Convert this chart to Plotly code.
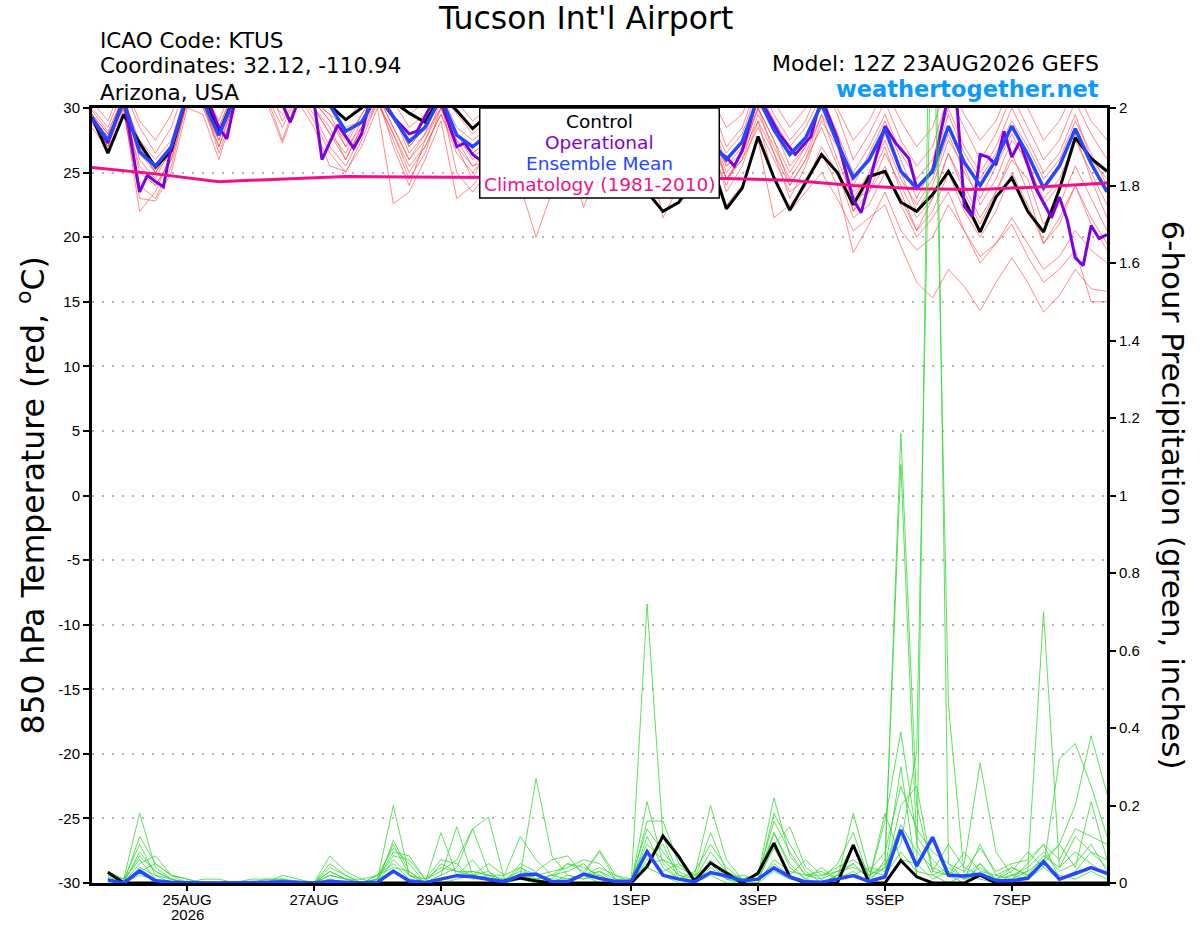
import pandas as pd
import plotly.graph_objects as go

START = "2026-08-23 12:00"
END = "2026-09-08 12:00"

# 850 hPa temperature, 6-hourly from 12Z 23AUG (values above 30 are clipped by the axis)
ctrl_temp = [
    29.3, 26.5, 29.5, 27.3, 25.4, 26.7, 31.0, 31.5, 28.0, 31.0,
    32.5, 33.0, 30.5, 32.0, 31.0, 30.2, 29.1, 30.0, 32.0, 30.5,
    29.6, 28.9, 31.0, 29.8, 28.4, 29.5, 28.0, 29.5, 27.5, 26.0,
    27.0, 28.5, 26.0, 24.5, 25.5, 23.5, 22.0, 22.7, 24.5, 26.0,
    22.2, 23.8, 27.8, 24.6, 22.1, 24.3, 26.4, 25.0, 22.5, 24.7,
    25.1, 22.7, 22.0, 23.3, 25.1, 22.9, 20.4, 23.1, 24.6, 22.0,
    20.4, 23.7, 27.7, 26.1, 25.1,
]
mean_temp = [
    29.2, 27.5, 30.5, 26.6, 25.5, 27.0, 31.0, 30.5, 27.9, 30.8,
    32.0, 32.0, 31.0, 31.5, 30.5, 30.2, 28.2, 28.9, 31.0, 29.3,
    27.4, 28.5, 30.8, 27.9, 27.0, 28.0, 28.5, 29.5, 28.0, 27.5,
    28.5, 29.0, 27.5, 27.0, 28.0, 28.5, 27.5, 27.0, 27.5, 27.5,
    26.0, 27.4, 30.8, 28.3, 26.4, 27.7, 30.3, 27.3, 24.6, 26.0,
    28.4, 25.1, 23.8, 25.1, 28.6, 25.8, 24.0, 26.0, 28.6, 26.4,
    23.8, 25.5, 28.4, 25.7, 23.5,
]
op_hours = [
    0, 6, 12, 18, 21, 24, 27, 30, 36, 42, 48, 51, 54, 60, 66, 72, 75, 78,
    84, 87, 93, 99, 102, 105, 108, 114, 120, 123, 129, 132, 138, 141, 144,
    150, 156, 162, 168, 174, 180, 186, 192, 198, 204, 210, 216, 222, 228,
    234, 240, 243, 246, 252, 260, 266, 272, 276, 282, 288, 291, 297, 300,
    304, 309, 312, 318, 324, 327, 330, 333, 336, 339, 342, 345, 348, 351,
    357, 363, 366, 369, 372, 375, 378, 381, 384,
]
op_temp = [
    29.2, 27.3, 30.8, 23.5, 24.8, 24.3, 23.9, 27.0, 31.0, 31.5, 28.5, 27.6, 30.5, 32.0, 31.5, 30.3, 28.9, 30.5,
    30.5, 26.0, 28.7, 26.9, 28.0, 30.5, 31.0, 29.3, 28.0, 28.2, 30.5, 30.5, 27.0, 27.3, 26.4,
    25.5, 27.5, 28.5, 27.0, 26.5, 28.0, 27.5, 26.5, 27.0, 28.0, 27.0, 26.0, 27.0, 28.0,
    27.0, 26.2, 25.5, 26.7, 31.0, 28.0, 26.4, 27.8, 30.8, 27.6, 22.9, 21.9, 26.5, 28.6,
    27.3, 26.1, 23.8, 25.1, 31.0, 31.0, 22.4, 21.6, 26.4, 26.2, 25.6, 28.2, 26.2, 27.4,
    23.8, 21.5, 23.1, 21.3, 18.4, 17.8, 20.9, 19.9, 20.2,
]
clim_hours = [0, 24, 48, 72, 96, 120, 144, 168, 192, 216, 240, 264, 288, 312, 336, 360, 384]
clim_temp = [25.4, 24.9, 24.3, 24.5, 24.7, 24.65, 24.6, 24.6, 24.6, 24.6, 24.55, 24.4, 24.0, 23.75, 23.7, 23.9, 24.2]

# ensemble members (red)
temp_m01 = [
    29.0, 27.0, 30.5, 27.5, 26.0, 27.5, 31.5, 31.0, 28.5, 31.5,
    32.5, 31.5, 30.0, 32.0, 30.5, 29.0, 27.5, 29.5, 31.5, 29.5,
    26.5, 28.0, 31.0, 28.0, 26.0, 27.5, 29.0, 30.0, 27.0, 26.5,
    29.0, 30.0, 27.0, 26.0, 28.0, 29.5, 28.0, 26.5, 28.5, 29.5,
    25.5, 27.0, 31.0, 28.5, 25.5, 27.0, 30.5, 28.0, 24.0, 26.5,
    29.0, 26.0, 23.0, 25.5, 29.5, 26.5, 24.5, 26.5, 29.0, 27.0,
    24.5, 26.0, 29.0, 26.5, 24.0,
]
temp_m02 = [
    29.5, 28.0, 30.0, 25.5, 24.0, 26.0, 30.5, 30.0, 27.0, 30.5,
    31.5, 31.0, 28.5, 31.0, 29.5, 27.0, 25.5, 28.0, 30.5, 28.0,
    25.0, 27.0, 29.5, 26.5, 25.0, 26.5, 28.0, 29.5, 26.5, 25.0,
    27.5, 28.5, 26.0, 25.0, 27.0, 28.0, 26.0, 25.0, 27.0, 28.5,
    24.5, 26.0, 29.5, 27.0, 24.5, 26.5, 29.5, 26.0, 23.0, 25.0,
    27.5, 24.5, 22.5, 24.5, 28.0, 25.0, 23.0, 25.5, 28.0, 25.5,
    23.0, 24.5, 27.5, 25.0, 22.5,
]
temp_m03 = [
    30.0, 28.5, 31.5, 28.5, 26.5, 28.5, 32.0, 31.5, 29.0, 32.0,
    33.0, 32.5, 31.0, 32.5, 31.5, 30.5, 29.0, 30.5, 32.0, 30.5,
    28.5, 29.5, 32.0, 29.5, 28.0, 29.0, 30.5, 31.5, 29.0, 28.0,
    30.0, 31.0, 29.0, 28.0, 29.5, 31.0, 29.0, 28.0, 29.5, 30.5,
    27.0, 28.5, 32.0, 29.5, 27.5, 29.0, 32.0, 29.5, 26.0, 28.0,
    30.5, 27.5, 25.5, 27.0, 31.0, 28.5, 26.0, 28.0, 31.0, 28.5,
    26.0, 27.5, 30.5, 28.0, 26.0,
]
temp_m04 = [
    28.5, 26.8, 29.5, 24.0, 23.0, 25.5, 30.5, 30.5, 26.5, 30.0,
    32.0, 32.0, 29.0, 31.0, 30.0, 28.5, 26.0, 28.5, 31.0, 27.0,
    24.0, 27.5, 30.0, 27.0, 24.5, 27.0, 28.5, 29.0, 25.5, 24.0,
    27.0, 28.0, 25.0, 23.5, 26.5, 27.5, 25.5, 24.0, 26.5, 27.5,
    23.5, 25.5, 29.0, 26.5, 23.0, 25.5, 29.0, 27.0, 23.5, 24.5,
    28.0, 25.0, 22.0, 24.0, 27.5, 25.5, 22.5, 24.5, 27.5, 26.0,
    22.5, 24.0, 28.0, 24.5, 21.5,
]
temp_m05 = [
    29.5, 28.0, 31.0, 27.0, 25.0, 27.0, 31.5, 30.5, 28.0, 31.0,
    32.0, 31.5, 30.5, 31.5, 30.5, 29.5, 28.5, 29.0, 31.5, 29.5,
    27.0, 28.5, 31.0, 28.5, 27.5, 28.5, 29.5, 30.5, 28.5, 27.5,
    29.0, 29.5, 28.0, 27.5, 28.5, 29.5, 28.0, 27.0, 28.0, 29.0,
    26.5, 28.0, 31.5, 29.0, 27.0, 28.5, 31.0, 28.0, 25.0, 27.0,
    29.5, 26.5, 24.5, 26.0, 30.0, 27.0, 25.0, 27.0, 30.0, 27.5,
    25.0, 26.5, 29.5, 26.0, 24.5,
]
temp_m06 = [
    29.0, 27.5, 30.0, 22.0, 23.5, 26.5, 30.5, 30.0, 27.5, 31.0,
    31.5, 31.0, 27.5, 31.0, 29.0, 26.5, 25.0, 27.5, 30.5, 27.5,
    24.5, 26.5, 30.0, 27.5, 25.5, 26.0, 27.0, 28.5, 26.0, 25.5,
    28.0, 29.0, 26.5, 24.5, 26.0, 27.0, 25.0, 24.5, 26.5, 27.0,
    24.0, 27.0, 30.0, 27.5, 25.0, 27.0, 30.5, 27.0, 23.0, 23.5,
    26.5, 24.0, 21.5, 23.0, 26.5, 24.0, 21.5, 23.5, 26.0, 24.5,
    21.0, 22.5, 25.5, 23.0, 20.5,
]
temp_m07 = [
    29.8, 28.2, 30.8, 26.0, 24.5, 27.0, 31.0, 31.0, 28.0, 31.0,
    32.5, 31.5, 30.0, 31.5, 30.0, 28.0, 26.5, 29.0, 31.0, 28.5,
    26.0, 27.5, 30.5, 25.0, 23.5, 25.0, 26.5, 24.0, 20.0, 23.5,
    26.0, 27.0, 25.0, 23.0, 25.5, 27.5, 21.5, 24.0, 27.0, 28.0,
    24.5, 26.5, 30.0, 26.5, 24.0, 26.0, 29.5, 27.5, 22.0, 24.5,
    27.0, 23.5, 20.5, 23.0, 26.5, 23.5, 21.0, 23.5, 26.5, 23.5,
    19.5, 21.5, 24.0, 21.0, 19.0,
]
temp_m08 = [
    29.3, 27.8, 30.5, 27.0, 25.0, 26.5, 31.0, 30.5, 27.5, 30.5,
    31.5, 31.5, 30.5, 31.5, 30.5, 29.5, 27.0, 28.5, 31.0, 28.5,
    26.0, 28.0, 30.0, 27.5, 26.5, 27.5, 28.5, 29.0, 27.0, 26.5,
    28.0, 28.5, 27.0, 26.0, 27.0, 28.0, 27.0, 26.5, 27.5, 28.0,
    25.5, 26.5, 29.0, 24.5, 22.0, 23.5, 25.0, 23.0, 20.5, 21.5,
    22.5, 19.3, 16.5, 15.3, 17.5, 16.2, 14.3, 16.5, 18.4, 16.5,
    14.2, 15.5, 17.5, 16.0, 15.8,
]
temp_m09 = [
    29.0, 27.0, 30.5, 25.0, 24.0, 26.0, 30.5, 30.5, 27.0, 30.5,
    32.0, 31.0, 29.5, 31.0, 30.0, 28.0, 26.0, 28.5, 30.5, 28.0,
    25.5, 27.0, 29.5, 27.0, 25.5, 26.5, 27.5, 28.5, 26.0, 25.5,
    27.5, 28.0, 26.0, 25.5, 26.5, 27.5, 26.0, 25.5, 27.0, 27.5,
    24.5, 26.0, 28.5, 26.0, 23.5, 24.5, 26.5, 24.0, 18.8, 21.0,
    23.5, 20.5, 19.0, 20.0, 22.5, 20.5, 18.0, 19.5, 21.5, 19.5,
    17.5, 18.5, 20.5, 19.0, 18.0,
]
temp_m10 = [
    29.5, 27.5, 31.0, 26.5, 25.0, 27.0, 31.5, 31.0, 28.5, 31.5,
    32.5, 32.0, 30.0, 32.0, 30.5, 29.0, 27.0, 29.5, 31.5, 29.5,
    27.0, 28.5, 31.0, 28.0, 26.5, 27.5, 29.0, 29.5, 27.5, 27.0,
    28.5, 29.5, 27.5, 26.5, 27.5, 28.5, 27.5, 26.5, 28.0, 28.5,
    25.0, 26.5, 30.0, 27.5, 24.0, 26.0, 28.5, 25.5, 22.0, 23.5,
    25.5, 22.5, 20.0, 21.5, 23.5, 20.5, 18.5, 19.5, 21.0, 18.5,
    16.5, 17.5, 19.0, 15.0, 15.0,
]
temp_m11 = [
    30.5, 29.0, 32.0, 29.0, 27.5, 29.5, 33.0, 32.5, 30.0, 33.0,
    33.5, 33.0, 31.5, 33.0, 32.0, 31.0, 30.0, 31.5, 33.0, 31.5,
    29.5, 30.5, 32.5, 30.5, 29.0, 30.0, 31.5, 32.0, 30.0, 29.5,
    31.0, 31.5, 30.0, 29.0, 30.5, 31.5, 30.0, 29.5, 30.5, 31.0,
    28.5, 29.5, 32.5, 30.5, 28.5, 30.0, 32.5, 30.0, 27.5, 29.0,
    31.5, 29.0, 27.0, 28.5, 32.0, 29.5, 27.5, 29.0, 32.0, 30.0,
    27.5, 29.0, 31.5, 29.0, 27.5,
]
temp_m12 = [
    28.8, 27.2, 29.8, 23.0, 22.8, 25.0, 30.0, 29.5, 26.0, 30.0,
    31.0, 30.5, 27.3, 30.5, 28.5, 25.5, 25.1, 27.0, 30.0, 22.6,
    23.5, 26.0, 29.0, 23.0, 24.0, 25.5, 27.0, 28.0, 24.5, 24.0,
    26.5, 22.3, 25.5, 24.0, 25.5, 26.5, 24.5, 23.5, 25.5, 26.0,
    22.5, 24.0, 27.5, 21.5, 22.5, 24.0, 27.0, 25.0, 21.5, 22.5,
    25.0, 23.0, 20.5, 22.0, 25.0, 22.0, 20.0, 22.0, 25.0, 22.5,
    19.5, 21.0, 24.0, 21.5, 19.5,
]

# 6-hour precipitation (inches), valid 18Z 23AUG onward
ctrl_precip = [
    0.028, 0, 0, 0, 0, 0, 0, 0,
    0, 0, 0, 0, 0, 0, 0, 0,
    0, 0, 0, 0, 0, 0, 0, 0,
    0, 0.005, 0.013, 0.005, 0, 0, 0, 0,
    0, 0, 0.042, 0.121, 0.068, 0.005, 0.052, 0.026,
    0, 0.026, 0.103, 0.016, 0, 0, 0, 0.098,
    0, 0, 0.058, 0.016, 0, 0, 0, 0.02,
    0, 0, 0, 0, 0, 0, 0, 0,
]
mean_precip = [
    0.008, 0, 0.031, 0.006, 0.002, 0, 0, 0,
    0, 0, 0.002, 0.003, 0.001, 0, 0.004, 0.002,
    0, 0.002, 0.031, 0.005, 0.001, 0.01, 0.019, 0.016,
    0.01, 0.003, 0.02, 0.023, 0.003, 0.003, 0.023, 0.012,
    0.004, 0.004, 0.081, 0.02, 0.01, 0.003, 0.027, 0.018,
    0.006, 0.01, 0.039, 0.016, 0.003, 0.002, 0.01, 0.019,
    0.004, 0.016, 0.137, 0.044, 0.118, 0.02, 0.018, 0.023,
    0.006, 0.006, 0.012, 0.055, 0.01, 0.025, 0.04, 0.025,
]
precip_m01 = [
    0.02, 0.01, 0.18, 0.04, 0.01, 0, 0, 0,
    0, 0, 0, 0, 0, 0, 0.02, 0.01,
    0, 0, 0.11, 0.03, 0, 0.13, 0.02, 0.06,
    0.01, 0, 0.04, 0.01, 0, 0, 0.02, 0,
    0, 0, 0.21, 0.05, 0.01, 0, 0.06, 0.01,
    0, 0.01, 0.09, 0.02, 0, 0, 0.02, 0.05,
    0.01, 0.04, 1.16, 0.20, 0.03, 0.02, 0, 0.05,
    0, 0.01, 0.03, 0.70, 0.04, 0.08, 0.05, 0.02,
]
precip_m02 = [
    0.01, 0, 0.12, 0.05, 0.02, 0.01, 0, 0,
    0, 0, 0, 0.01, 0, 0, 0.05, 0.02,
    0, 0.01, 0.20, 0.02, 0, 0.02, 0.04, 0.14,
    0.17, 0.01, 0.02, 0.27, 0.07, 0.02, 0.01, 0.03,
    0, 0, 0.72, 0.12, 0.02, 0, 0.03, 0.02,
    0, 0, 0.13, 0.04, 0.01, 0, 0.01, 0.03,
    0, 0.06, 1.08, 0.10, 0.02, 0.04, 0.01, 0.02,
    0.01, 0, 0.02, 0.05, 0.10, 0.04, 0.21, 0.06,
]
precip_m03 = [
    0.03, 0.01, 0.10, 0.02, 0, 0, 0, 0,
    0, 0, 0, 0, 0, 0, 0.03, 0.01,
    0, 0.02, 0.09, 0.05, 0, 0.01, 0.02, 0.02,
    0.05, 0.02, 0.12, 0.06, 0.02, 0.05, 0.03, 0.08,
    0.01, 0, 0.16, 0.16, 0.05, 0.02, 0.20, 0.06,
    0.01, 0.02, 0.22, 0.07, 0.02, 0.03, 0.01, 0.02,
    0.04, 0.03, 0.30, 0.02, 2.90, 0.05, 0.01, 0.10,
    0.02, 0.01, 0.05, 0.10, 0.01, 0.03, 0.08, 0.04,
]
precip_m04 = [
    0.01, 0, 0.08, 0.03, 0.01, 0, 0, 0,
    0, 0, 0.01, 0.01, 0, 0, 0.01, 0,
    0, 0.01, 0.08, 0.07, 0.01, 0.04, 0.03, 0.03,
    0.02, 0.01, 0.03, 0.02, 0.01, 0.05, 0.04, 0.02,
    0, 0.01, 0.10, 0.06, 0.02, 0.01, 0.13, 0.03,
    0, 0.01, 0.18, 0.10, 0.03, 0, 0.02, 0.10,
    0.02, 0.05, 0.10, 0.34, 2.40, 0.46, 0.02, 0.05,
    0.01, 0.02, 0.04, 0.08, 0.03, 0.05, 0.10, 0.03,
]
precip_m05 = [
    0.02, 0.01, 0.06, 0.01, 0, 0, 0, 0,
    0, 0, 0, 0.02, 0.01, 0, 0.07, 0.03,
    0.01, 0, 0.06, 0.02, 0, 0.05, 0.03, 0.02,
    0.03, 0, 0.05, 0.03, 0.06, 0.07, 0.02, 0.03,
    0.01, 0, 0.08, 0.03, 0.05, 0.01, 0.05, 0.01,
    0.02, 0.01, 0.10, 0.145, 0.04, 0.01, 0.03, 0.05,
    0.01, 0.16, 0.39, 0.12, 0.06, 0.02, 0.05, 0.31,
    0.08, 0.02, 0.03, 0.06, 0.10, 0.20, 0.38, 0.23,
]
precip_m06 = [
    0, 0, 0.05, 0.07, 0.02, 0, 0, 0,
    0, 0, 0, 0, 0, 0, 0.04, 0.02,
    0, 0.01, 0.07, 0.06, 0.01, 0.03, 0.06, 0.14,
    0.03, 0, 0.01, 0.02, 0.01, 0.01, 0.02, 0.085,
    0.02, 0, 0.12, 0.04, 0.01, 0.03, 0.10, 0.04,
    0.01, 0.02, 0.13, 0.05, 0.01, 0.04, 0.01, 0.18,
    0.03, 0.02, 0.20, 0.25, 0.03, 0.10, 0.04, 0.02,
    0.01, 0.03, 0.08, 0.04, 0.32, 0.36, 0.25, 0.12,
]
precip_m07 = [
    0.01, 0, 0.04, 0.02, 0.01, 0, 0.01, 0.01,
    0, 0, 0, 0, 0, 0, 0.01, 0,
    0, 0.02, 0.05, 0.01, 0, 0.02, 0.145, 0.02,
    0.01, 0.01, 0.02, 0.01, 0.02, 0.03, 0.05, 0.01,
    0, 0, 0.06, 0.10, 0.01, 0, 0.04, 0.01,
    0, 0, 0.06, 0.03, 0.02, 0.01, 0.05, 0.13,
    0.01, 0.18, 0.06, 0.05, 0.01, 0.03, 0.01, 0.04,
    0.01, 0.04, 0.02, 0.05, 0.02, 0.01, 0.03, 0.01,
]
precip_m08 = [
    0, 0, 0.03, 0.05, 0.02, 0.01, 0, 0,
    0, 0, 0, 0, 0, 0, 0.02, 0.01,
    0.01, 0.02, 0.04, 0.03, 0, 0.01, 0.02, 0.03,
    0.02, 0, 0.01, 0.01, 0.02, 0.01, 0.02, 0.04,
    0.02, 0.01, 0.05, 0.06, 0.04, 0.02, 0.05, 0.02,
    0.01, 0.01, 0.05, 0.02, 0.06, 0.02, 0.03, 0.04,
    0.02, 0.04, 0.15, 0.08, 0.04, 0.02, 0.08, 0.03,
    0.02, 0.04, 0.02, 0.07, 0.04, 0.12, 0.08, 0.06,
]
precip_m09 = [
    0.01, 0, 0.02, 0.01, 0, 0, 0, 0,
    0, 0, 0, 0, 0, 0, 0, 0,
    0, 0, 0.03, 0.01, 0, 0, 0.01, 0.02,
    0.01, 0, 0.01, 0, 0, 0.02, 0.01, 0.02,
    0, 0, 0.04, 0.02, 0, 0, 0.02, 0,
    0, 0, 0.03, 0.01, 0, 0, 0.02, 0.02,
    0, 0.02, 0.08, 0.03, 0.02, 0, 0.02, 0.01,
    0, 0.02, 0.01, 0.04, 0.01, 0.02, 0.04, 0.02,
]
precip_m10 = [
    0.015, 0.005, 0.07, 0.03, 0.01, 0, 0, 0,
    0, 0.01, 0.01, 0.01, 0.005, 0, 0.03, 0.01,
    0, 0.01, 0.10, 0.02, 0.01, 0.06, 0.05, 0.01,
    0.02, 0.02, 0.04, 0.02, 0.03, 0.04, 0.06, 0.05,
    0.01, 0.01, 0.14, 0.08, 0.03, 0.01, 0.08, 0.03,
    0.01, 0.02, 0.16, 0.08, 0.02, 0.02, 0.04, 0.06,
    0.03, 0.08, 0.25, 0.14, 0.08, 0.05, 0.03, 0.09,
    0.03, 0.05, 0.06, 0.10, 0.06, 0.14, 0.12, 0.10,
]

tick_dates = ["2026-08-25", "2026-08-27", "2026-08-29", "2026-09-01",
              "2026-09-03", "2026-09-05", "2026-09-07"]
tick_labels = ["25AUG", "27AUG", "29AUG", "1SEP", "3SEP", "5SEP", "7SEP"]
year_label = "2026"
temp_ticks = [-30, -25, -20, -15, -10, -5, 0, 5, 10, 15, 20, 25, 30]
temp_tick_labels = ["-30", "-25", "-20", "-15", "-10", "-5", "0", "5", "10", "15", "20", "25", "30"]
precip_ticks = [0, 0.2, 0.4, 0.6, 0.8, 1, 1.2, 1.4, 1.6, 1.8, 2]
precip_tick_labels = ["0", "0.2", "0.4", "0.6", "0.8", "1", "1.2", "1.4", "1.6", "1.8", "2"]

temp_members = [temp_m01, temp_m02, temp_m03, temp_m04, temp_m05, temp_m06,
                temp_m07, temp_m08, temp_m09, temp_m10, temp_m11, temp_m12]
precip_members = [precip_m01, precip_m02, precip_m03, precip_m04, precip_m05,
                  precip_m06, precip_m07, precip_m08, precip_m09, precip_m10]

TICK_FONT = "Liberation Sans, Arial, sans-serif"
TEXT_FONT = "DejaVu Sans, Verdana, sans-serif"
start = pd.Timestamp(START)
times = pd.date_range(START, periods=len(ctrl_temp), freq="6h")
precip_times = times[1:]
op_times = start + pd.to_timedelta(op_hours, unit="h")
clim_times = start + pd.to_timedelta(clim_hours, unit="h")

fig = go.Figure()

for m in temp_members:
    fig.add_trace(go.Scatter(x=times, y=m, mode="lines", yaxis="y",
                             line=dict(color="rgba(255,60,60,0.75)", width=0.8)))

fig.add_trace(go.Scatter(x=times, y=ctrl_temp, mode="lines", line=dict(color="black", width=3)))
fig.add_trace(go.Scatter(x=op_times, y=op_temp, mode="lines", line=dict(color="#7f00dc", width=3)))
fig.add_trace(go.Scatter(x=times, y=mean_temp, mode="lines", line=dict(color="#2448ff", width=3.5)))
fig.add_trace(go.Scatter(x=clim_times, y=clim_temp, mode="lines", line=dict(color="#f0108a", width=3)))

for m in precip_members:
    fig.add_trace(go.Scatter(x=precip_times, y=m, mode="lines", yaxis="y2",
                             line=dict(color="#35d835", width=0.8)))

fig.add_trace(go.Scatter(x=precip_times, y=ctrl_precip, mode="lines", yaxis="y2",
                         line=dict(color="black", width=3)))
fig.add_trace(go.Scatter(x=precip_times, y=mean_precip, mode="lines", yaxis="y2",
                         line=dict(color="#2448ff", width=3.5)))

axis_font = dict(family=TICK_FONT, size=15, color="black")

fig.update_layout(
    width=1200,
    height=927,
    margin=dict(l=92, r=93, t=108, b=44),
    paper_bgcolor="white",
    plot_bgcolor="white",
    showlegend=False,
    font=dict(family=TEXT_FONT, color="black"),
    xaxis=dict(
        type="date", range=[START, END], automargin=False,
        tickmode="array", tickvals=tick_dates, ticktext=tick_labels,
        ticks="outside", ticklen=5, tickwidth=1.5, tickcolor="black",
        ticklabelstandoff=-4,
        tickfont=axis_font,
        showline=True, linewidth=3, linecolor="black", mirror=True,
        showgrid=False, zeroline=False,
    ),
    yaxis=dict(
        range=[-30, 30], automargin=False,
        tickmode="array", tickvals=temp_ticks, ticktext=temp_tick_labels,
        ticks="outside", ticklen=6, tickwidth=1.5, tickcolor="black",
        tickfont=axis_font,
        showline=True, linewidth=3, linecolor="black",
        showgrid=True, gridcolor="#b4b4b4", gridwidth=1.5, griddash="2px,8px",
        zeroline=False,
    ),
    yaxis2=dict(
        range=[0, 2], overlaying="y", side="right", automargin=False,
        tickmode="array", tickvals=precip_ticks, ticktext=precip_tick_labels,
        ticks="outside", ticklen=6, tickwidth=1.5, tickcolor="black",
        tickfont=axis_font,
        showline=True, linewidth=3, linecolor="black",
        showgrid=False, zeroline=False,
    ),
)

# year under the first date label
fig.add_annotation(text=year_label, xref="x", yref="paper", x=tick_dates[0], y=-0.040,
                   showarrow=False, xanchor="center", yanchor="middle", font=axis_font)

# legend box
fig.add_shape(type="rect", xref="paper", yref="paper", x0=0.382, x1=0.618, y0=0.884, y1=1.0,
              fillcolor="white", line=dict(color="black", width=1.5), layer="above")
legend_items = [("Control", "black", 0.983), ("Operational", "#7f00dc", 0.956),
                ("Ensemble Mean", "#2448ff", 0.929), ("Climatology (1981-2010)", "#f0108a", 0.901)]
for text, color, ypos in legend_items:
    fig.add_annotation(text=text, xref="paper", yref="paper", x=0.5, y=ypos,
                       showarrow=False, xanchor="center", yanchor="middle",
                       font=dict(family=TEXT_FONT, size=18.5, color=color))

# header text
fig.add_annotation(text="Tucson Int'l Airport", xref="paper", yref="paper", x=0.486, y=1.116,
                   showarrow=False, xanchor="center", yanchor="middle",
                   font=dict(family=TEXT_FONT, size=31.5, color="black"))
for text, ypos in [("ICAO Code: KTUS", 1.0877), ("Coordinates: 32.12, -110.94", 1.0542),
                   ("Arizona, USA", 1.0206)]:
    fig.add_annotation(text=text, xref="paper", yref="paper", x=0.006, y=ypos,
                       showarrow=False, xanchor="left", yanchor="middle",
                       font=dict(family=TEXT_FONT, size=21.5, color="black"))
fig.add_annotation(text="Model: 12Z 23AUG2026 GEFS", xref="paper", yref="paper", x=0.994, y=1.058,
                   showarrow=False, xanchor="right", yanchor="middle",
                   font=dict(family=TEXT_FONT, size=22, color="black"))
fig.add_annotation(text="<b>weathertogether.net</b>", xref="paper", yref="paper", x=0.994, y=1.0245,
                   showarrow=False, xanchor="right", yanchor="middle",
                   font=dict(family=TEXT_FONT, size=22.5, color="#0a9bff"))

# axis titles
fig.add_annotation(text="850 hPa Temperature (red, <sup>o</sup>C)", xref="paper", yref="paper",
                   x=-0.061, y=0.5, textangle=-90, showarrow=False,
                   xanchor="center", yanchor="middle",
                   font=dict(family=TEXT_FONT, size=31.5, color="black"))
fig.add_annotation(text="6-hour Precipitation (green, inches)", xref="paper", yref="paper",
                   x=1.066, y=0.5, textangle=90, showarrow=False,
                   xanchor="center", yanchor="middle",
                   font=dict(family=TEXT_FONT, size=31, color="black"))

fig.write_html("out.html", config={"displayModeBar": False},
               post_script="document.body.style.margin='0';")
